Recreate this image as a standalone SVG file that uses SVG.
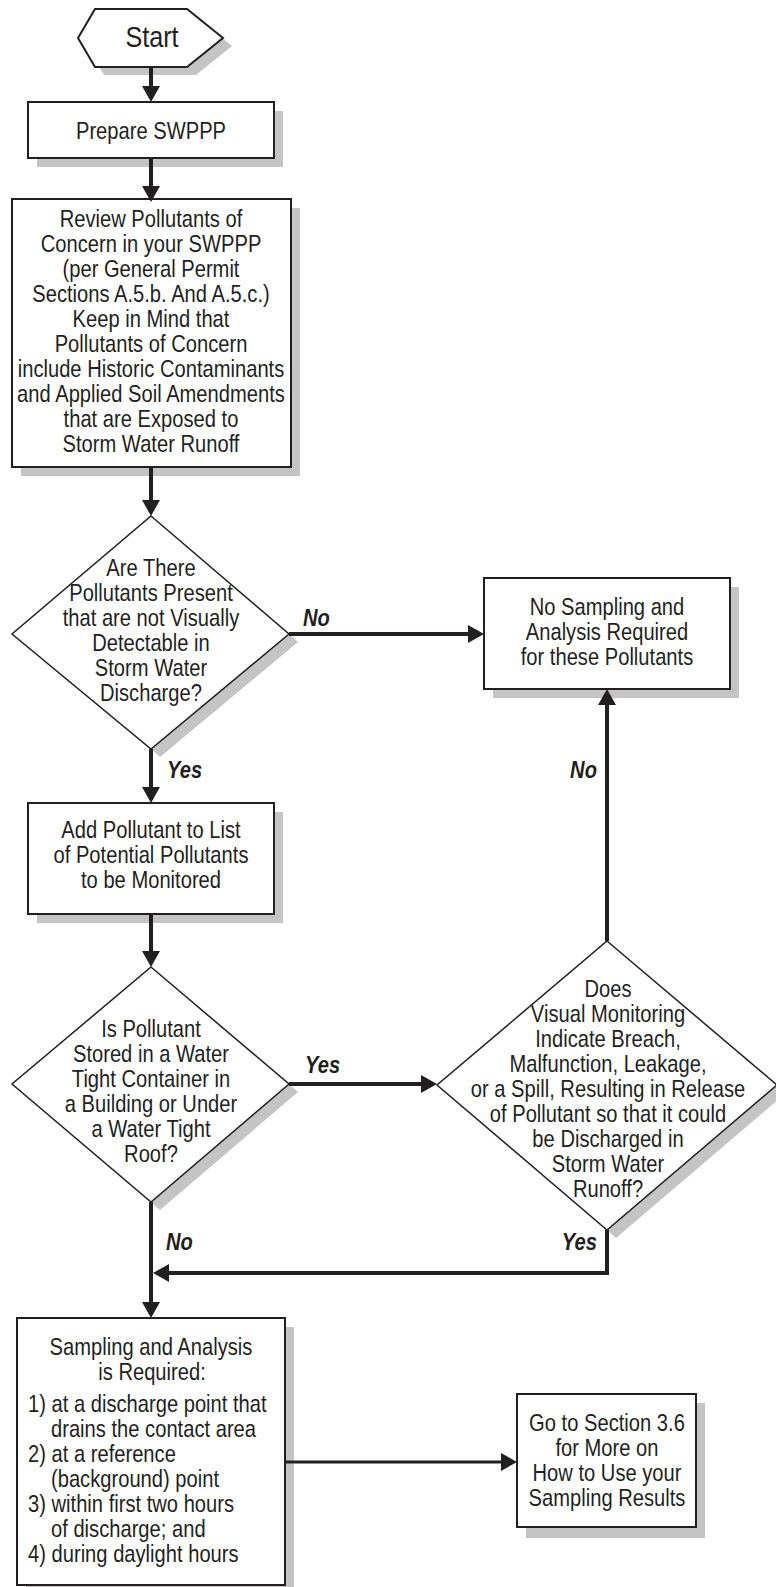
<svg xmlns="http://www.w3.org/2000/svg" width="776" height="1587" viewBox="0 0 776 1587">
<style>
.t{font-family:"Liberation Sans Narrow","Liberation Sans",Arial,sans-serif;font-size:24px;fill:#231f20;text-anchor:middle}
.l{text-anchor:start}
.lbl{font-family:"Liberation Sans Narrow","Liberation Sans",Arial,sans-serif;font-size:24px;font-weight:bold;font-style:italic;fill:#231f20}
.box{fill:#fff;stroke:#231f20;stroke-width:2}
.dia{fill:#fff;stroke:#231f20;stroke-width:1.5}
.sh{fill:#c4c4c4}
.c{stroke:#231f20;stroke-width:4;fill:none}
</style>
<defs>
<marker id="ah" markerUnits="userSpaceOnUse" markerWidth="16" markerHeight="18" refX="1" refY="9" orient="auto" viewBox="0 0 16 18">
<path d="M0,0 L16,9 L0,18 z" fill="#231f20"/>
</marker>
</defs>
<rect width="776" height="1587" fill="#fff"/>

<g id="start">
<polygon class="sh" points="87,46 104,17 196,17 232,46 196,75 104,75"/>
<polygon class="box" points="78,38 95,9 187,9 223,38 187,67 95,67"/>
<g transform="scale(0.84,1)">
<text class="t" x="180.95" y="47" style="font-size:30px">Start</text>
</g>
</g>

<g id="prepare">
<rect class="sh" x="37" y="111" width="246" height="56"/>
<rect class="box" x="28" y="102" width="246" height="56"/>
<g transform="scale(0.84,1)">
<text class="t" x="179.76" y="139">Prepare SWPPP</text>
</g>
</g>

<g id="review">
<rect class="sh" x="21" y="208" width="279" height="268"/>
<rect class="box" x="12" y="199" width="279" height="268"/>
<g transform="scale(0.84,1)">
<text class="t" x="179.76" y="227">Review Pollutants of</text>
<text class="t" x="179.76" y="252">Concern in your SWPPP</text>
<text class="t" x="179.76" y="277">(per General Permit</text>
<text class="t" x="179.76" y="302">Sections A.5.b. And A.5.c.)</text>
<text class="t" x="179.76" y="327">Keep in Mind that</text>
<text class="t" x="179.76" y="352">Pollutants of Concern</text>
<text class="t" x="179.76" y="377">include Historic Contaminants</text>
<text class="t" x="179.76" y="402">and Applied Soil Amendments</text>
<text class="t" x="179.76" y="427">that are Exposed to</text>
<text class="t" x="179.76" y="452">Storm Water Runoff</text>
</g>
</g>

<g id="decision1">
<polygon class="sh" points="289,634 298,642 160,757 151,749"/>
<polygon class="dia" points="151,516 289,634 151,749 12,634"/>
<g transform="scale(0.84,1)">
<text class="t" x="179.76" y="576">Are There</text>
<text class="t" x="179.76" y="601">Pollutants Present</text>
<text class="t" x="179.76" y="626">that are not Visually</text>
<text class="t" x="179.76" y="651">Detectable in</text>
<text class="t" x="179.76" y="676">Storm Water</text>
<text class="t" x="179.76" y="701">Discharge?</text>
</g>
</g>

<g id="nosampling">
<rect class="sh" x="493" y="587" width="246" height="111"/>
<rect class="box" x="484" y="578" width="246" height="111"/>
<g transform="scale(0.84,1)">
<text class="t" x="722.62" y="615">No Sampling and</text>
<text class="t" x="722.62" y="640">Analysis Required</text>
<text class="t" x="722.62" y="665">for these Pollutants</text>
</g>
</g>

<g id="addpollutant">
<rect class="sh" x="37" y="812" width="246" height="111"/>
<rect class="box" x="28" y="803" width="246" height="111"/>
<g transform="scale(0.84,1)">
<text class="t" x="179.76" y="838">Add Pollutant to List</text>
<text class="t" x="179.76" y="863">of Potential Pollutants</text>
<text class="t" x="179.76" y="888">to be Monitored</text>
</g>
</g>

<g id="decision2">
<polygon class="sh" points="289,1084 298,1092 160,1210 151,1202"/>
<polygon class="dia" points="151,967 289,1084 151,1202 12,1084"/>
<g transform="scale(0.84,1)">
<text class="t" x="179.76" y="1037">Is Pollutant</text>
<text class="t" x="179.76" y="1062">Stored in a Water</text>
<text class="t" x="179.76" y="1087">Tight Container in</text>
<text class="t" x="179.76" y="1112">a Building or Under</text>
<text class="t" x="179.76" y="1137">a Water Tight</text>
<text class="t" x="179.76" y="1162">Roof?</text>
</g>
</g>

<g id="decision3">
<polygon class="sh" points="777,1085 786,1093 616,1238 607,1230"/>
<polygon class="dia" points="607,941 777,1085 607,1230 437,1085"/>
<g transform="scale(0.84,1)">
<text class="t" x="723.81" y="997">Does</text>
<text class="t" x="723.81" y="1022">Visual Monitoring</text>
<text class="t" x="723.81" y="1047">Indicate Breach,</text>
<text class="t" x="723.81" y="1072">Malfunction, Leakage,</text>
<text class="t" x="723.81" y="1097">or a Spill, Resulting in Release</text>
<text class="t" x="723.81" y="1122">of Pollutant so that it could</text>
<text class="t" x="723.81" y="1147">be Discharged in</text>
<text class="t" x="723.81" y="1172">Storm Water</text>
<text class="t" x="723.81" y="1197">Runoff?</text>
</g>
</g>

<g id="sampling">
<rect class="sh" x="26" y="1327" width="268" height="270"/>
<rect class="box" x="17" y="1318" width="268" height="267"/>
<g transform="scale(0.84,1)">
<text class="t" x="179.76" y="1355">Sampling and Analysis</text>
<text class="t" x="180.95" y="1380">is Required:</text>
<text class="t l" x="33.33" y="1412">1) at a discharge point that</text>
<text class="t l" x="60.71" y="1437">drains the contact area</text>
<text class="t l" x="33.33" y="1462">2) at a reference</text>
<text class="t l" x="60.71" y="1487">(background) point</text>
<text class="t l" x="33.33" y="1512">3) within first two hours</text>
<text class="t l" x="60.71" y="1537">of discharge; and</text>
<text class="t l" x="33.33" y="1562">4) during daylight hours</text>
</g>
</g>

<g id="goto">
<rect class="sh" x="526" y="1403" width="179" height="135"/>
<rect class="box" x="517" y="1394" width="179" height="133"/>
<g transform="scale(0.84,1)">
<text class="t" x="722.62" y="1431">Go to Section 3.6</text>
<text class="t" x="722.62" y="1456">for More on</text>
<text class="t" x="722.62" y="1481">How to Use your</text>
<text class="t" x="722.62" y="1506">Sampling Results</text>
</g>
</g>

<g id="connectors">
<path class="c" d="M151,67 V87" marker-end="url(#ah)"/>
<path class="c" d="M151,158 V187" marker-end="url(#ah)"/>
<path class="c" d="M151,467 V501" marker-end="url(#ah)"/>
<path class="c" d="M289,634 H469" marker-end="url(#ah)"/>
<path class="c" d="M151,749 V788" marker-end="url(#ah)"/>
<path class="c" d="M151,914 V952" marker-end="url(#ah)"/>
<path class="c" d="M289,1084 H422" marker-end="url(#ah)"/>
<path class="c" d="M607,941 V704" marker-end="url(#ah)"/>
<path class="c" d="M151,1202 V1303" marker-end="url(#ah)"/>
<path class="c" d="M607,1230 V1273 H168" marker-end="url(#ah)"/>
<path class="c" d="M285,1462 H502" style="stroke-width:3" marker-end="url(#ah)"/>
<g transform="scale(0.84,1)">
<text class="lbl" x="360.71" y="626">No</text>
<text class="lbl" x="198.81" y="778">Yes</text>
<text class="lbl" x="710.71" y="778" text-anchor="end">No</text>
<text class="lbl" x="363.10" y="1073">Yes</text>
<text class="lbl" x="197.62" y="1250">No</text>
<text class="lbl" x="710.71" y="1250" text-anchor="end">Yes</text>
</g>
</g>
</svg>
